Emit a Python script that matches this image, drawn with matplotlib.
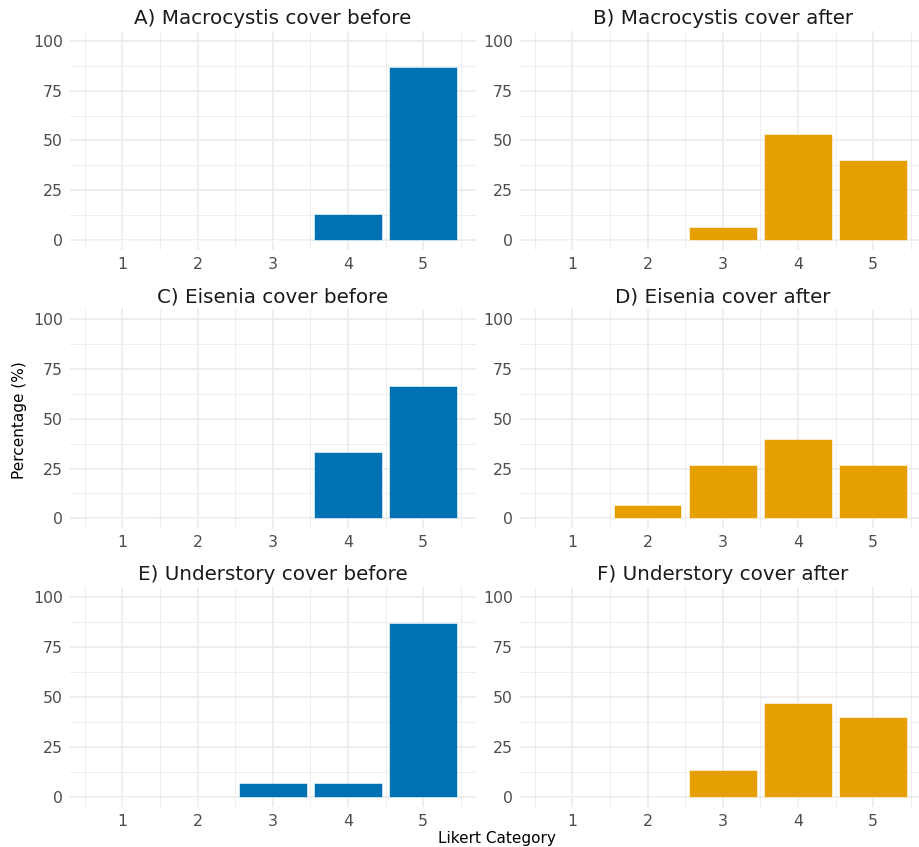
import matplotlib
matplotlib.use("Agg")
import matplotlib.pyplot as plt
import numpy as np

plt.rcParams["font.family"] = ["DejaVu Sans"]

categories = [1, 2, 3, 4, 5]
titles = [
    "A) Macrocystis cover before", "B) Macrocystis cover after",
    "C) Eisenia cover before", "D) Eisenia cover after",
    "E) Understory cover before", "F) Understory cover after",
]
macro_before = [0, 0, 0, 13.3, 86.7]
macro_after = [0, 0, 6.7, 53.3, 40.0]
eisenia_before = [0, 0, 0, 33.3, 66.7]
eisenia_after = [0, 6.7, 26.7, 40.0, 26.7]
under_before = [0, 0, 6.7, 6.7, 86.7]
under_after = [0, 0, 13.3, 46.7, 40.0]
series = [macro_before, macro_after, eisenia_before, eisenia_after,
          under_before, under_after]

BLUE = "#0072B2"
ORANGE = "#E69F00"
GRID = "#EBEBEB"

W, H = 919, 847
fig = plt.figure(figsize=(W / 100, H / 100), dpi=100)

# panel boxes in pixels: (left, right, top, bottom)
cols = [(70, 475.5), (520, 925.5)]
rows = [(31, 250), (309.3, 528.3), (586.7, 806.7)]

for i, (vals, title) in enumerate(zip(series, titles)):
    r, c = divmod(i, 2)
    x0, x1 = cols[c]
    y0, y1 = rows[r]
    ax = fig.add_axes([x0 / W, 1 - y1 / H, (x1 - x0) / W, (y1 - y0) / H])
    color = BLUE if c == 0 else ORANGE
    ax.bar(categories, vals, width=0.9, color=color, edgecolor="white",
           linewidth=0.4, zorder=3)
    ax.set_xlim(0.305, 5.695)
    ax.set_ylim(-5, 105)
    ax.set_xticks(categories)
    ax.set_yticks([0, 25, 50, 75, 100])
    ax.set_xticks(np.arange(0.5, 6, 1), minor=True)
    ax.set_yticks([12.5, 37.5, 62.5, 87.5], minor=True)
    ax.grid(True, which="major", color=GRID, lw=1.2, zorder=0)
    ax.grid(True, which="minor", color=GRID, lw=0.6, zorder=0)
    ax.tick_params(which="both", length=0, labelsize=11.3, labelcolor="#4D4D4D",
                   pad=5)
    for s in ax.spines.values():
        s.set_visible(False)
    ax.set_title(title, fontsize=14.3, color="#1A1A1A", pad=5)

fig.text(20 / W, 1 - 420 / H, "Percentage (%)", rotation=90, ha="center",
         va="center", fontsize=11, color="black")
fig.text(497 / W, 1 - 838 / H, "Likert Category", ha="center", va="center",
         fontsize=11, color="black")

fig.savefig("out.png", dpi=100)
